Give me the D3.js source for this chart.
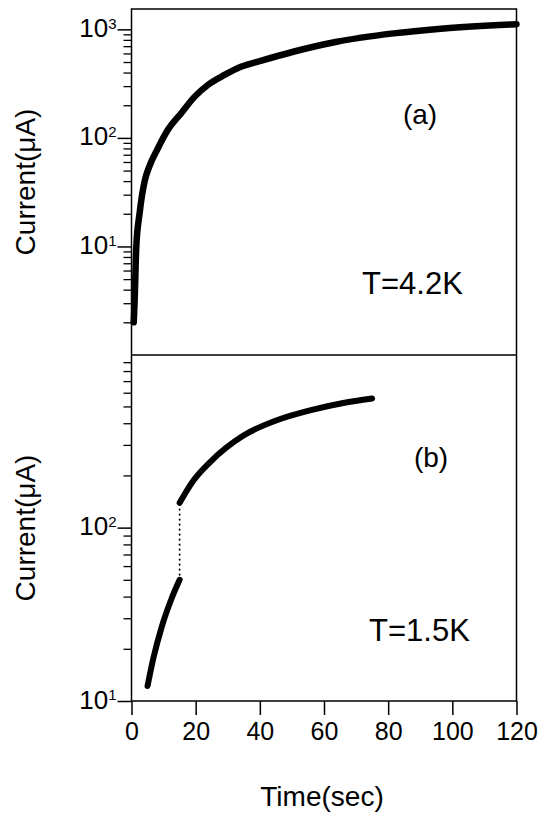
<!DOCTYPE html>
<html>
<head>
<meta charset="utf-8">
<script src="https://cdn.jsdelivr.net/npm/d3@7"></script>
<style>
  html, body { margin: 0; padding: 0; background: #fff; }
  svg { display: block; }
  text { font-family: "Liberation Sans", Arial, "Helvetica", sans-serif; fill: #000; }
</style>
</head>
<body>
<svg id="chart" width="538" height="815"></svg>
<script>
// ---- data ----
const xTicks = [0, 20, 40, 60, 80, 100, 120];
const yMajorA = [10, 100, 1000];
const yMajorB = [10, 100];
const yLabelExp = {10: "1", 100: "2", 1000: "3"};

// panel (a) T = 4.2 K
const timeA = [0.7, 0.95, 1.5, 2.5, 4.1, 5.6, 8.2, 11.3, 15.5, 19.7, 23.8, 29, 34.3, 40.5, 50.4, 64, 81.7, 97.3, 120];
const currentA = [2.0, 3.0, 10, 20, 40, 55, 80, 118, 169, 240, 307, 380, 454, 515, 622, 769, 918, 1020, 1117];

// panel (b) T = 1.5 K, two branches joined by a dotted jump
const timeB1 = [5, 6.8, 9.4, 12.5, 15];
const currentB1 = [12.2, 17.6, 26.7, 39, 50];
const timeB2 = [15, 19.3, 24.5, 34.9, 45.3, 55.6, 66, 75];
const currentB2 = [139, 187, 239, 340, 416, 474, 523, 555];
const jumpTime = [15, 15];
const jumpCurrent = [50, 139];

// ---- layout ----
const left = 131.5, right = 516.5;
const topA = 9, mid = 355, bottomB = 701;

const svg = d3.select("#chart");

const x = d3.scaleLinear().domain([0, 120]).range([left, right]);
const yA = d3.scaleLog().domain([1, 1540]).range([mid, topA]);
const yB = d3.scaleLog().domain([10, 990]).range([bottomB, mid]);

function minorTicks(lo, hi) {
  const out = [];
  for (let dec = lo; dec < hi; dec *= 10) {
    for (let m = 2; m <= 9; m++) {
      const v = m * dec;
      if (v < hi) out.push(v);
    }
  }
  return out;
}

function yAxes(scale, major, minorLo, minorHi) {
  const gMinor = svg.append("g").attr("transform", `translate(${left},0)`)
    .call(d3.axisLeft(scale).tickValues(minorTicks(minorLo, minorHi).filter(v => v >= scale.domain()[0] && v <= scale.domain()[1]))
      .tickSize(8).tickFormat(""));
  gMinor.select(".domain").remove();
  gMinor.selectAll("line").attr("stroke", "#000").attr("stroke-width", 1.3);

  const gMajor = svg.append("g").attr("transform", `translate(${left},0)`)
    .call(d3.axisLeft(scale).tickValues(major).tickSize(14).tickPadding(2).tickFormat(""));
  gMajor.select(".domain").remove();
  gMajor.selectAll("line").attr("stroke", "#000").attr("stroke-width", 1.5);
  gMajor.selectAll(".tick text").remove();
  gMajor.selectAll(".tick").each(function(d) {
    const t = d3.select(this).append("text")
      .attr("x", -15)
      .attr("y", 7)
      .attr("text-anchor", "end")
      .style("font-size", "26px");
    t.append("tspan").text("10");
    t.append("tspan").attr("dy", "-0.55em").style("font-size", "15px").text(yLabelExp[d]);
  });
}

yAxes(yA, yMajorA, 1, 1540);
yAxes(yB, yMajorB, 10, 990);

// x axis
const gx = svg.append("g").attr("transform", `translate(0,${bottomB})`)
  .call(d3.axisBottom(x).tickValues(xTicks).tickSize(14).tickPadding(7));
gx.select(".domain").remove();
gx.selectAll("line").attr("stroke", "#000").attr("stroke-width", 1.5);
gx.selectAll("text").style("font-size", "25px").attr("fill", "#000");

// frames
svg.append("rect").attr("x", left).attr("y", topA).attr("width", right - left).attr("height", bottomB - topA)
  .attr("fill", "none").attr("stroke", "#000").attr("stroke-width", 1.5);
svg.append("line").attr("x1", left).attr("x2", right).attr("y1", mid).attr("y2", mid)
  .attr("stroke", "#000").attr("stroke-width", 1.5);

// curves
function drawLine(ts, vs, ys, width) {
  const pts = ts.map((t, i) => [t, vs[i]]);
  const line = d3.line().x(d => x(d[0])).y(d => ys(d[1])).curve(d3.curveMonotoneX);
  return svg.append("path").attr("d", line(pts))
    .attr("fill", "none").attr("stroke", "#000").attr("stroke-width", width)
    .attr("stroke-linecap", "round").attr("stroke-linejoin", "round");
}

drawLine(timeA, currentA, yA, 6.5);
drawLine(timeB1, currentB1, yB, 6);
drawLine(timeB2, currentB2, yB, 6);
svg.append("path")
  .attr("d", d3.line().x(d => x(d[0])).y(d => yB(d[1]))(jumpTime.map((t, i) => [t, jumpCurrent[i]])))
  .attr("fill", "none").attr("stroke", "#000").attr("stroke-width", 1.8)
  .attr("stroke-dasharray", "0.5,4.5").attr("stroke-linecap", "round");

// titles
svg.append("text").attr("transform", `translate(35,182) rotate(-90)`)
  .attr("text-anchor", "middle").style("font-size", "28px").text("Current(μA)");
svg.append("text").attr("transform", `translate(35,528) rotate(-90)`)
  .attr("text-anchor", "middle").style("font-size", "28px").text("Current(μA)");
svg.append("text").attr("x", 322).attr("y", 806).attr("text-anchor", "middle")
  .style("font-size", "28px").text("Time(sec)");

// annotations
svg.append("text").attr("x", 420).attr("y", 124).attr("text-anchor", "middle").style("font-size", "28px").text("(a)");
svg.append("text").attr("x", 362).attr("y", 294).style("font-size", "31px").text("T=4.2K");
svg.append("text").attr("x", 431).attr("y", 467).attr("text-anchor", "middle").style("font-size", "28px").text("(b)");
svg.append("text").attr("x", 369).attr("y", 641).style("font-size", "31px").text("T=1.5K");
</script>
</body>
</html>
